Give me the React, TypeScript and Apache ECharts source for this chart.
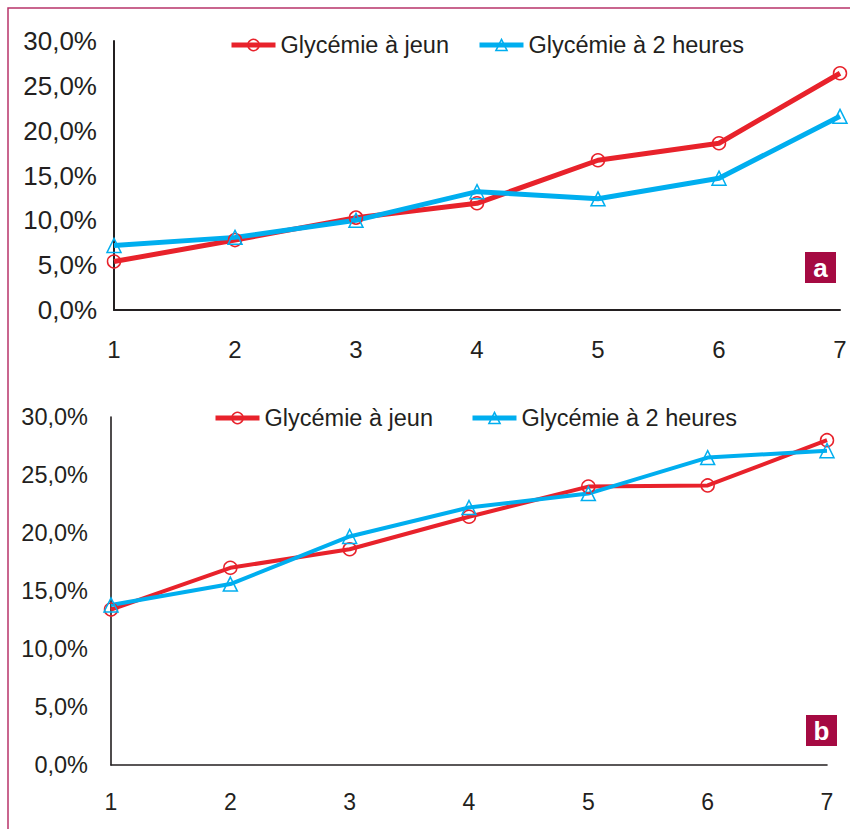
import React, { useEffect, useRef } from "react";
import * as echarts from "echarts";

const categories = ["1", "2", "3", "4", "5", "6", "7"];
const seriesNames = ["Glycémie à jeun", "Glycémie à 2 heures"];
const jeunA = [5.4, 7.8, 10.3, 11.9, 16.7, 18.6, 26.4];
const deuxHA = [7.2, 8.1, 10.0, 13.2, 12.4, 14.7, 21.6];
const jeunB = [13.4, 17.0, 18.6, 21.4, 24.0, 24.1, 28.0];
const deuxHB = [13.8, 15.6, 19.7, 22.2, 23.4, 26.5, 27.1];
const yTicks = { min: 0, max: 30, interval: 5 };
const panelLabels = ["a", "b"];

const RED = "#E8222B";
const BLUE = "#00AEEF";
const TEXT = "#231F20";
const FONT = "'Liberation Sans', Arial, Helvetica, sans-serif";

const fmt = (v: number) => v.toFixed(1).replace(".", ",") + "%";

export default function App() {
  const ref = useRef<HTMLDivElement>(null);
  useEffect(() => {
    if (!ref.current) return;
    const chart = echarts.init(ref.current, undefined, { renderer: "svg" });
    const mkSeries = (
      name: string,
      data: number[],
      idx: number,
      color: string,
      symbol: string,
      width: number
    ) => ({
      name,
      type: "line",
      xAxisIndex: idx,
      yAxisIndex: idx,
      data,
      symbol,
      symbolSize: symbol === "triangle" ? [14, 14] : 13,
      showAllSymbol: true,
      lineStyle: { color, width },
      itemStyle: { color: "rgba(255,255,255,0)", borderColor: color, borderWidth: 1.5 },
      emphasis: { disabled: true },
    });
    const xAxisBase = (idx: number, margin: number, size: number, lw: number) => ({
      type: "category",
      gridIndex: idx,
      data: categories,
      boundaryGap: false,
      axisTick: { show: false },
      axisLine: { show: true, lineStyle: { color: TEXT, width: lw } },
      axisLabel: { color: TEXT, fontSize: size, fontFamily: FONT, margin },
      splitLine: { show: false },
    });
    const yAxisBase = (idx: number, margin: number, size: number, lw: number) => ({
      type: "value",
      gridIndex: idx,
      min: yTicks.min,
      max: yTicks.max,
      interval: yTicks.interval,
      axisTick: { show: false },
      axisLine: { show: true, lineStyle: { color: TEXT, width: lw } },
      axisLabel: { color: TEXT, fontSize: size, fontFamily: FONT, margin, formatter: fmt },
      splitLine: { show: false },
    });
    const legendBase = (left: number, top: number, gap: number) => ({
      left,
      top,
      padding: 0,
      itemGap: gap,
      itemWidth: 44,
      itemHeight: 14,
      data: seriesNames,
      selectedMode: false,
      lineStyle: { width: 5 },
      itemStyle: { color: "rgba(255,255,255,0)", borderWidth: 1.5 },
      textStyle: { color: TEXT, fontSize: 23.5, fontFamily: FONT },
    });
    const box = (x: number, y: number, label: string) => [
      { type: "rect", shape: { x, y, width: 31, height: 31 }, style: { fill: "#A50A42" }, z: 10 },
      {
        type: "text",
        x: x + 15.5,
        y: y + 15.5,
        style: {
          text: label,
          fill: "#fff",
          font: `bold 26px ${FONT}`,
          align: "center",
          verticalAlign: "middle",
        },
        z: 11,
      },
    ];
    chart.setOption({
      animation: false,
      backgroundColor: "#fff",
      grid: [
        { left: 114, top: 41, width: 726, height: 269 },
        { left: 111, top: 417, width: 716, height: 348 },
      ],
      xAxis: [xAxisBase(0, 27, 24, 2), xAxisBase(1, 25, 23, 1.6)],
      yAxis: [yAxisBase(0, 17, 26, 2), yAxisBase(1, 23, 23.5, 1.6)],
      legend: [legendBase(229, 33, 28), legendBase(213, 406, 37)],
      series: [
        mkSeries(seriesNames[0], jeunA, 0, RED, "circle", 5),
        mkSeries(seriesNames[1], deuxHA, 0, BLUE, "triangle", 5),
        mkSeries(seriesNames[0], jeunB, 1, RED, "circle", 4),
        mkSeries(seriesNames[1], deuxHB, 1, BLUE, "triangle", 4),
      ],
      graphic: [
        {
          type: "rect",
          shape: { x: 8, y: 8, width: 900, height: 900 },
          style: { fill: "none", stroke: "#B8336A", lineWidth: 1.5 },
          z: 0,
        },
        ...box(805, 252, panelLabels[0]),
        ...box(806, 715, panelLabels[1]),
      ],
    });
    return () => chart.dispose();
  }, []);
  return (
    <div
      ref={ref}
      style={{ position: "absolute", left: 0, top: 0, width: 850, height: 829 }}
    />
  );
}
